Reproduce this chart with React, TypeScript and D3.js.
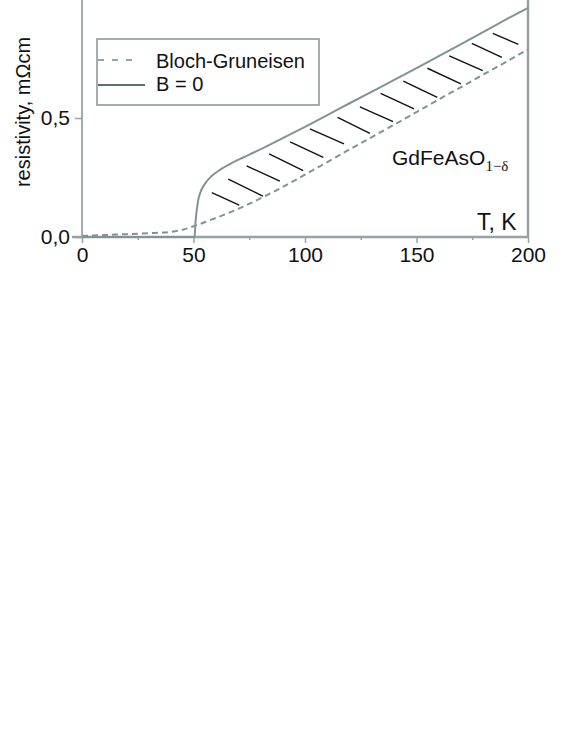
import React, { useEffect, useRef } from "react";
import * as d3 from "d3";

// temperature (K) / resistivity (mOhm cm)
const measuredT = [0, 38, 50.5, 50.8, 51.3, 52, 53, 55, 58, 62, 67, 72, 77, 83, 90, 100, 110, 120, 130, 140, 150, 160, 170, 180, 190, 200];
const measuredRho = [0, 0, 0, 0.05, 0.1, 0.15, 0.185, 0.222, 0.255, 0.283, 0.31, 0.333, 0.355, 0.382, 0.415, 0.463, 0.512, 0.562, 0.611, 0.66, 0.71, 0.76, 0.81, 0.862, 0.913, 0.962];

const blochT = [0, 10, 20, 30, 40, 45, 50, 55, 60, 70, 80, 90, 100, 110, 120, 130, 140, 150, 160, 170, 180, 190, 200];
const blochRho = [0.004, 0.008, 0.012, 0.016, 0.022, 0.03, 0.045, 0.062, 0.08, 0.118, 0.162, 0.21, 0.262, 0.315, 0.368, 0.42, 0.472, 0.525, 0.578, 0.63, 0.683, 0.735, 0.788];

// hatch strokes between the two curves: [T start, rho start, T end, rho end]
const hatch = [
  [58.2, 0.186, 70.5, 0.134],
  [65.6, 0.243, 81.1, 0.172],
  [73.8, 0.299, 88.7, 0.235],
  [83.9, 0.349, 99.2, 0.279],
  [93.3, 0.4, 108.2, 0.335],
  [102.2, 0.454, 117.5, 0.391],
  [114.6, 0.503, 129.1, 0.435],
  [124.6, 0.547, 139.5, 0.485],
  [133.9, 0.603, 148.9, 0.538],
  [144.1, 0.655, 159.3, 0.587],
  [154.9, 0.709, 169.9, 0.643],
  [164.7, 0.761, 179.7, 0.699],
  [174.8, 0.814, 188.3, 0.755],
  [184.2, 0.856, 195.7, 0.809],
];

const xMajor = [0, 50, 100, 150, 200];
const xMinor = [25, 75, 125, 175];
const yMajor = [0, 0.5];

const legendLabels = ["Bloch-Gruneisen", "B = 0"];

const W = 572;
const H = 740;
const FONT = "'Liberation Sans', Arial, sans-serif";
const AXIS = "#97a3a3";
const CURVE = "#829393";

export default function App() {
  const ref = useRef<SVGSVGElement>(null);

  useEffect(() => {
    const svg = d3.select(ref.current);
    svg.selectAll("*").remove();

    const x = d3.scaleLinear().domain([0, 200]).range([82, 528]);
    const y = d3.scaleLinear().domain([0, 1]).range([237, -1]);
    const comma = d3.formatLocale({ decimal: ",", thousands: ".", grouping: [3], currency: ["", ""] }).format(".1f");

    const line = d3.line<[number, number]>()
      .x(d => x(d[0]))
      .y(d => y(d[1]))
      .curve(d3.curveMonotoneX);

    // frame lines
    svg.append("line").attr("x1", x(0)).attr("x2", x(0)).attr("y1", 0).attr("y2", y(0))
      .attr("stroke", AXIS).attr("stroke-width", 1.8);
    svg.append("line").attr("x1", x(200)).attr("x2", x(200)).attr("y1", 0).attr("y2", y(0))
      .attr("stroke", AXIS).attr("stroke-width", 2.5);

    // x axis
    const gx = svg.append("g").attr("transform", `translate(0,${y(0)})`)
      .call(d3.axisBottom(x).tickValues(xMajor).tickSize(6).tickPadding(4).tickFormat(d3.format("d")));
    svg.append("g").attr("transform", `translate(0,${y(0)})`)
      .call(d3.axisBottom(x).tickValues(xMinor).tickSize(3).tickFormat(() => ""))
      .call(g => g.select(".domain").remove())
      .selectAll("line").attr("stroke", AXIS).attr("stroke-width", 1.5);

    // y axis
    const gy = svg.append("g").attr("transform", `translate(${x(0)},0)`)
      .call(d3.axisLeft(y).tickValues(yMajor).tickSize(7).tickPadding(5).tickFormat(d => comma(d as number)));
    gy.select(".domain").remove();

    [gx, gy].forEach(g => {
      g.select(".domain").attr("stroke", AXIS).attr("stroke-width", 2.5);
      g.selectAll(".tick line").attr("stroke", AXIS).attr("stroke-width", 1.5);
      g.selectAll("text").attr("font-family", FONT).attr("font-size", 21).attr("fill", "#111");
    });
    gx.select(".domain").attr("d", `M${x(0) - 10},0H${x(200)}`);

    // curves
    const bloch = blochT.map((t, i) => [t, blochRho[i]] as [number, number]);
    const meas = measuredT.map((t, i) => [t, measuredRho[i]] as [number, number]);

    svg.append("path").attr("d", line(bloch)).attr("fill", "none")
      .attr("stroke", CURVE).attr("stroke-width", 2).attr("stroke-dasharray", "6,4");
    svg.append("path").attr("d", line(meas)).attr("fill", "none")
      .attr("stroke", CURVE).attr("stroke-width", 2);

    svg.append("g").selectAll("line").data(hatch).enter().append("line")
      .attr("x1", d => x(d[0])).attr("y1", d => y(d[1]))
      .attr("x2", d => x(d[2])).attr("y2", d => y(d[3]))
      .attr("stroke", "#111").attr("stroke-width", 1.4);

    // legend
    const lg = svg.append("g");
    lg.append("rect").attr("x", 97).attr("y", 39).attr("width", 222).attr("height", 66)
      .attr("fill", "white").attr("stroke", "#8c9999").attr("stroke-width", 1.6);
    lg.append("line").attr("x1", 98).attr("x2", 140).attr("y1", 60).attr("y2", 60)
      .attr("stroke", "#97a5a5").attr("stroke-width", 2).attr("stroke-dasharray", "6,8");
    lg.append("line").attr("x1", 98).attr("x2", 145).attr("y1", 85).attr("y2", 85)
      .attr("stroke", "#5d7070").attr("stroke-width", 2);
    lg.selectAll("text").data(legendLabels).enter().append("text")
      .attr("x", 156).attr("y", (d, i) => 68 + i * 23)
      .attr("font-family", FONT).attr("font-size", 20).attr("fill", "#111")
      .text(d => d);

    // annotations
    const formula = svg.append("text").attr("x", 392).attr("y", 165)
      .attr("font-family", FONT).attr("font-size", 21).attr("fill", "#111");
    formula.append("tspan").text("GdFeAsO");
    formula.append("tspan").attr("dy", 6).attr("font-family", "'Liberation Serif', 'Times New Roman', serif")
      .attr("font-size", 15).text("1−δ");

    svg.append("text").attr("x", 477).attr("y", 230)
      .attr("font-family", FONT).attr("font-size", 23).attr("fill", "#111").text("T, K");

    svg.append("text").attr("transform", "translate(29.5,112) rotate(-90)")
      .attr("text-anchor", "middle")
      .attr("font-family", FONT).attr("font-size", 20).attr("fill", "#111")
      .text("resistivity, mΩcm");
  }, []);

  return (
    <svg ref={ref} width={W} height={H}
      style={{ position: "absolute", left: 0, top: 0, background: "white" }} />
  );
}
